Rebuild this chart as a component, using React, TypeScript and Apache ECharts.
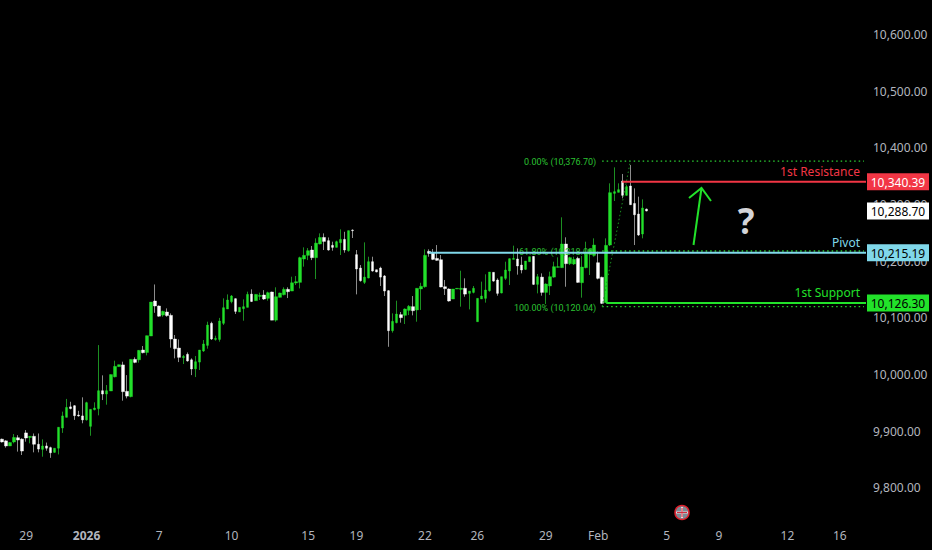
import React, { useEffect, useRef } from "react";
import * as echarts from "echarts";

// [open, close, low, high]
const candles: number[][] = [
  [9886,9881,9880,9887],[9883,9874,9871,9884],[9874,9880,9874,9880.5],[9881,9889,9878.6,9895],[9888.5,9884.5,9864,9893],
  [9886,9865,9858,9887.5],[9897,9888,9881.5,9902],[9889,9891,9878.6,9891],[9891,9877,9862.7,9896],[9877,9868.5,9862.7,9896],
  [9868,9874,9855,9885.6],[9874,9870,9865.6,9880],[9871,9862,9853,9872.7],[9862.7,9870,9862,9870],[9870,9907,9859,9907],
  [9905.6,9927,9897,9934.5],[9924.5,9942,9924.5,9957],[9943,9940,9938.6,9952],[9945,9927.4,9920,9946],[9928.6,9927,9925.6,9936],
  [9927,9920,9914,9959.8],[9920,9950.4,9918.6,9952],[9908.6,9938.6,9892,9938.6],[9938,9941,9936.8,9951],[9939.8,9971.5,9928,10052],
  [9971.5,9965.6,9955,9998.6],[9965.6,9971.5,9946.8,9981.5],[9971,10000,9971,10000],[9996,10014.5,9995,10024.5],[10014,10017.4,10014,10017.4],
  [10017,9969.8,9953.9,10022.7],[9970.4,9962,9958,9999],[9961,10026.8,9959.8,10026.8],[10026.8,10021.5,10020,10030.4],[10026,10042.7,10021,10043.3],
  [10043.3,10038.6,10037.4,10050.4],[10039,10068.6,10033.9,10068.6],[10068,10128,10068,10128],[10129.8,10121,10109,10159],[10121,10103,10102,10122],
  [10105,10111.5,10102,10112.7],[10110.4,10104,10102,10116.8],[10104.5,10062.7,10047.4,10108],[10062.7,10045.6,10028.6,10069.8],[10046.8,10030.4,10022,10062],
  [10029.8,10032,10018.6,10034.5],[10035.7,10024,10022.7,10039],[10026,10009.8,9999,10028.6],[10010,10022.7,9995.6,10032.7],[10022,10043.3,10008,10043.3],
  [10041.5,10054,10040,10061],[10051.5,10087.4,10045.7,10093.3],[10090.4,10062.7,10061,10093.3],[10062,10063.9,10059.8,10068.6],[10062,10094.5,10058,10100],
  [10090.4,10118,10087.4,10134.5],[10115.7,10131.6,10115.7,10141.5],[10128.6,10138.6,10125.7,10140.4],[10133.9,10111.5,10106.9,10134.5],[10110.4,10118.6,10110.4,10118.6],
  [10116.3,10119.8,10095,10132.7],[10118.6,10141.5,10118.6,10146.3],[10142,10129,10128,10150.4],[10130.4,10141.5,10130.4,10141.5],[10138,10139.8,10131.6,10144.5],
  [10140.4,10133.3,10131.6,10149],[10134.5,10144.5,10130.4,10146.3],[10145.7,10096,10096,10146.3],[10096,10137.4,10093.3,10154],[10136.3,10143.9,10136.3,10144.5],
  [10141,10150.4,10139.8,10154],[10150.4,10146.3,10135,10154],[10147.4,10162,10147.4,10172.7],[10161.6,10163.9,10158,10173.9],[10162.7,10206.3,10152,10208],
  [10203.9,10210.4,10190.4,10224.5],[10210.4,10218.6,10202,10223.3],[10219.8,10206.3,10202,10226.9],[10206.3,10232,10168.6,10240.4],[10230.4,10242,10229.8,10249.2],
  [10242,10235,10219.8,10249.2],[10236.3,10219.8,10218.6,10242],[10228,10224.5,10218.6,10234.5],[10224.5,10234.5,10224.5,10236.3],[10232.7,10238.6,10211,10256.3],
  [10238.6,10219.8,10215,10252],[10218.6,10254,10216.9,10254],[10255,10254,10241,10256.3],[10211.6,10186.3,10141.5,10219.8],[10188,10165.7,10164,10193.3],
  [10162.7,10172,10159.8,10233.3],[10170.4,10199.2,10169.8,10208],[10199.2,10182.7,10181.6,10208],[10185,10181,10180.4,10185.1],[10188,10172,10156.3,10190.4],
  [10174,10147.4,10138.6,10175.7],[10148,10077.4,10049,10149],[10077.4,10093.9,10074,10108],[10091.6,10106.9,10090.4,10130.4],[10105.7,10100.4,10091.6,10110.4],
  [10104.5,10115.7,10089.2,10116.8],[10113.3,10120.4,10105,10122.7],[10119.8,10112.7,10104.5,10138.6],[10114,10152.2,10093.3,10152.2],[10151,10155.7,10114,10162],
  [10155,10210.4,10153.3,10221],[10217.4,10214,10208,10221],[10215,10203.3,10202,10221.6],[10205,10201.6,10201,10228.6],[10202.7,10154.5,10153.9,10211],
  [10155,10151.6,10140.4,10166.9],[10151,10129.8,10128.6,10152.2],[10133.3,10151,10133.3,10151],[10151,10152.2,10151,10152.2],[10150.4,10152.2,10119.8,10183.3],
  [10152.2,10142,10137.4,10169.8],[10143.3,10147.4,10115,10147.4],[10145,10152.2,10143.3,10156.3],[10093.3,10134.5,10093.3,10134.5],[10133.3,10138.6,10133.3,10164],
  [10134.5,10149.2,10126.9,10176.9],[10148,10181,10146.3,10181],[10180.4,10165,10163.9,10180.4],[10166.9,10143.3,10139.2,10169.8],[10143.9,10172.7,10143.3,10172.7],
  [10169.8,10184.5,10166.9,10199.2],[10182.7,10204.5,10158,10205],[10203.3,10205,10203.3,10227.5],[10204,10191.6,10176.3,10222.7],[10193.3,10184.5,10178.6,10208],
  [10185.7,10200.4,10184.5,10200.4],[10199.2,10208,10199.2,10208],[10208.6,10159.2,10158,10209.2],[10159.2,10172.7,10143.3,10177.5],[10172,10145,10139.2,10178.6],
  [10145,10159.8,10124.5,10161],[10156.3,10172.7,10140.4,10181.6],[10172,10190.4,10171,10199.2],[10189.2,10190.4,10189.2,10206.9],[10188.6,10230.4,10188.6,10277.5],
  [10230.4,10195.7,10155,10242.2],[10195.7,10206.3,10193.3,10208],[10195.1,10203.3,10193.3,10208],[10205,10162.7,10162,10208],[10162.1,10189.8,10135.7,10209.2],
  [10188.6,10213.9,10187.5,10234.5],[10212.7,10221,10175.7,10221],[10210.4,10228.6,10209.2,10240.4],[10197.4,10169.8,10168,10216.9],[10171.6,10125.7,10124.5,10172.7],
  [10126.9,10228,10126.9,10240.4],[10228.6,10321,10226.9,10337.5],[10319.8,10322.8,10306.3,10365.7],[10321.6,10326.3,10321.6,10337.5],[10341.6,10316.3,10311,10354],
  [10316.3,10331.6,10315.7,10334.5],[10332.8,10299.8,10299.2,10369.8],[10302,10282,10228.6,10328.6],[10283.3,10246.3,10244.5,10314],[10248,10294,10240.4,10309.2],
  [10292,10288.7,10288,10293],
];

const slotCount = 215;
const categories = Array.from({ length: slotCount }, (_, i) => String(i));

const dateTickIndex = [6, 21, 39, 57, 76, 88, 105, 118, 135, 148, 165, 178, 195, 208];
const dateTickLabel = ["29", "2026", "7", "10", "15", "19", "22", "26", "29", "Feb", "5", "9", "12", "16"];

const priceTicks = [9800, 9900, 10000, 10100, 10200, 10300, 10400, 10500, 10600];

// [start slot, price]
const levels = [
  { name: "1st Resistance", start: 154, price: 10340.39, color: "#f23645", text: "#ffffff" },
  { name: "Pivot", start: 106, price: 10215.19, color: "#80d8ea", text: "#000000" },
  { name: "1st Support", start: 150, price: 10126.3, color: "#22e22a", text: "#000000" },
];
const lastPrice = 10288.7;

const fibLevels = [
  { label: "0.00% (10,376.70)", price: 10376.7 },
  { label: "61.80% (10,218.08)", price: 10218.08 },
  { label: "100.00% (10,120.04)", price: 10120.04 },
];
const fibStart = 149;
const fibEnd = 156;

const UI_FONT = '"Noto Sans", sans-serif';
const fmt = (v: number) =>
  v.toLocaleString("en-US", { minimumFractionDigits: 2, maximumFractionDigits: 2 });

export default function App() {
  const ref = useRef<HTMLDivElement>(null);
  useEffect(() => {
    document.body.style.margin = "0";
    document.body.style.background = "#000";
    const chart = echarts.init(ref.current!, undefined, { renderer: "svg" });
    const tickMap = new Map(dateTickIndex.map((i, k) => [String(i), dateTickLabel[k]]));

    const tagOf = (params: any, y: number, label: string, fill: string, textFill: string) => {
      const r = params.coordSys.x + params.coordSys.width;
      return [
        { type: "rect", shape: { x: r + 1, y: y - 8.5, width: 62, height: 17 }, style: { fill } },
        {
          type: "text",
          style: { text: label, x: r + 32, y: y + 0.5, fill: textFill, font: `12px ${UI_FONT}`, align: "center", verticalAlign: "middle" },
        },
      ];
    };

    chart.setOption({
      animation: false,
      backgroundColor: "#000000",
      tooltip: { show: false },
      grid: { left: -2, right: 66, top: 0, bottom: 30 },
      xAxis: {
        type: "category",
        data: categories,
        boundaryGap: true,
        axisLine: { show: false },
        axisTick: { show: false },
        splitLine: { show: false },
        axisLabel: {
          interval: (_: number, v: string) => tickMap.has(v),
          formatter: (v: string) => {
            const t = tickMap.get(v) ?? "";
            return t === "2026" ? `{b|${t}}` : t;
          },
          rich: { b: { fontWeight: "bold", color: "#b2b5be", fontSize: 12, fontFamily: UI_FONT } },
          color: "#b2b5be",
          fontSize: 12,
          fontFamily: UI_FONT,
          margin: 9,
          hideOverlap: false,
        },
      },
      yAxis: {
        type: "value",
        position: "right",
        min: 9743.3,
        max: 10661.07,
        axisLine: { show: false },
        axisTick: { show: false },
        splitLine: { show: false },
        axisLabel: {
          customValues: priceTicks,
          formatter: (v: number) => fmt(v),
          color: "#b2b5be",
          fontSize: 12,
          fontFamily: UI_FONT,
          margin: 7,
        },
      },
      series: [
        {
          type: "candlestick",
          silent: true,
          barWidth: 1,
          data: candles,
          itemStyle: { color: "#1c8f22", color0: "#8c8c8c", borderColor: "#1c8f22", borderColor0: "#8c8c8c", borderWidth: 1 },
          z: 2,
        },
        {
          type: "candlestick",
          silent: true,
          barWidth: 3,
          data: candles.map(([o, c]) => [o, c, Math.min(o, c), Math.max(o, c)]),
          itemStyle: { color: "#22e02a", color0: "#ffffff", borderColor: "#22e02a", borderColor0: "#ffffff", borderWidth: 0.4 },
          z: 3,
        },
        {
          type: "custom",
          silent: true,
          z: 4,
          data: fibLevels.map((f) => [fibStart, f.price]),
          renderItem: (params: any, api: any) => {
            const [x, y] = api.coord([api.value(0), api.value(1)]);
            const r = params.coordSys.x + params.coordSys.width;
            return {
              type: "group",
              children: [
                { type: "line", shape: { x1: x, y1: y, x2: r - 2, y2: y }, style: { stroke: "#2bd032", lineWidth: 1.3, lineDash: [1.5, 3] } },
                {
                  type: "text",
                  style: {
                    text: fibLevels[params.dataIndex].label, x: x - 6, y: y + 1, fill: "#2bc032",
                    font: '9px Roboto, sans-serif', align: "right", verticalAlign: "middle",
                  },
                },
              ],
            };
          },
        },
        {
          type: "custom",
          silent: true,
          z: 4,
          data: [[fibStart, fibLevels[2].price, fibEnd, fibLevels[0].price]],
          renderItem: (_: any, api: any) => {
            const a = api.coord([api.value(0), api.value(1)]);
            const b = api.coord([api.value(2), api.value(3)]);
            return {
              type: "line",
              shape: { x1: a[0], y1: a[1], x2: b[0], y2: b[1] },
              style: { stroke: "#1c8f22", lineWidth: 1, lineDash: [1.5, 2.5] },
            };
          },
        },
        {
          type: "custom",
          silent: true,
          z: 5,
          data: [[0, lastPrice]],
          renderItem: (params: any, api: any) => {
            const y = api.coord([0, api.value(1)])[1];
            return { type: "group", children: tagOf(params, y, fmt(lastPrice), "#ffffff", "#000000") };
          },
        },
        {
          type: "custom",
          silent: true,
          z: 6,
          data: levels.map((l) => [l.start, l.price]),
          renderItem: (params: any, api: any) => {
            const lv = levels[params.dataIndex];
            const [x, y] = api.coord([api.value(0), api.value(1)]);
            const r = params.coordSys.x + params.coordSys.width;
            return {
              type: "group",
              children: [
                { type: "line", shape: { x1: x, y1: y, x2: r, y2: y }, style: { stroke: lv.color, lineWidth: 2 } },
                {
                  type: "text",
                  style: { text: lv.name, x: r - 6, y: y - 10, fill: lv.color, font: `12px ${UI_FONT}`, align: "right", verticalAlign: "middle" },
                },
                ...tagOf(params, y, fmt(lv.price), lv.color, lv.text),
              ],
            };
          },
        },
      ],
      graphic: [
        { type: "polyline", z: 20, shape: { points: [[693.5, 245], [701.5, 188]] }, style: { stroke: "#22e22a", lineWidth: 2, fill: "none" } },
        { type: "polyline", z: 20, shape: { points: [[689, 198], [701.5, 188], [711, 201]] }, style: { stroke: "#22e22a", lineWidth: 2, fill: "none" } },
        { type: "text", z: 20, style: { text: "?", x: 746, y: 220, fill: "#d4d4d8", font: `bold 35px ${UI_FONT}`, align: "center", verticalAlign: "middle" } },
        { type: "circle", z: 20, shape: { cx: 682, cy: 512.5, r: 7 }, style: { fill: "#7d8a94", stroke: "#e0202c", lineWidth: 1.5 } },
        { type: "line", z: 21, shape: { x1: 676, y1: 512.5, x2: 688, y2: 512.5 }, style: { stroke: "#f0d0d8", lineWidth: 2 } },
        { type: "line", z: 21, shape: { x1: 682, y1: 507, x2: 682, y2: 518 }, style: { stroke: "#f0d0d8", lineWidth: 2 } },
        { type: "line", z: 22, shape: { x1: 677, y1: 512.5, x2: 687, y2: 512.5 }, style: { stroke: "#d03040", lineWidth: 1 } },
        { type: "line", z: 22, shape: { x1: 682, y1: 508, x2: 682, y2: 517 }, style: { stroke: "#d03040", lineWidth: 1 } },
      ],
    });
    return () => chart.dispose();
  }, []);
  return <div ref={ref} style={{ position: "fixed", left: 0, top: 0, width: 932, height: 550 }} />;
}
